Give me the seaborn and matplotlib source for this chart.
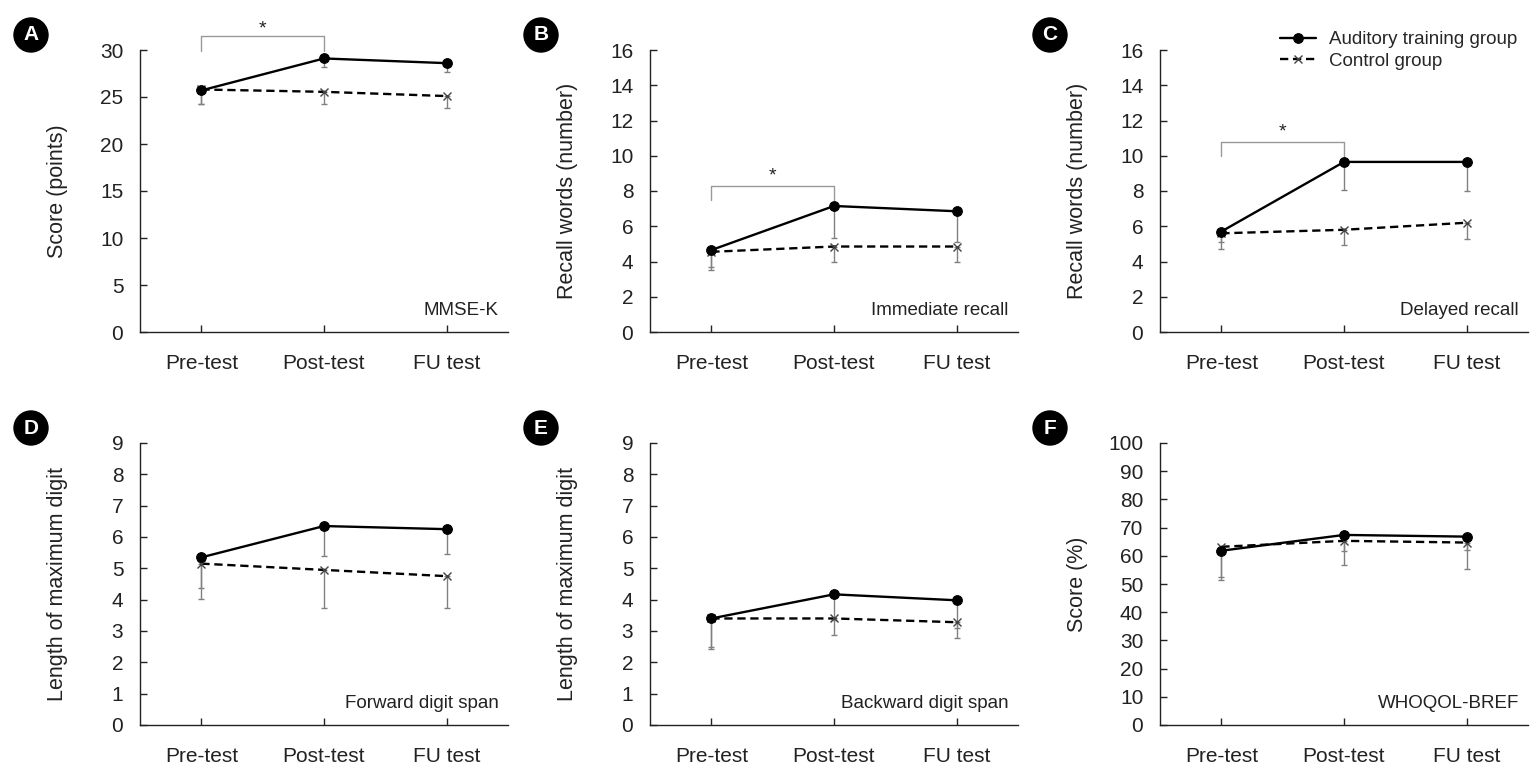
import matplotlib
matplotlib.use("Agg")
import matplotlib.pyplot as plt
import seaborn as sns

sns.set_theme(style="ticks")
plt.rcParams["font.family"] = ["Liberation Sans", "DejaVu Sans"]

tests = ["Pre-test", "Post-test", "FU test"]

# means
mmse_train = [25.7, 29.1, 28.6]
mmse_ctrl = [25.8, 25.55, 25.1]
imm_train = [4.65, 7.15, 6.85]
imm_ctrl = [4.55, 4.85, 4.85]
del_train = [5.7, 9.65, 9.65]
del_ctrl = [5.6, 5.8, 6.2]
fwd_train = [5.35, 6.35, 6.25]
fwd_ctrl = [5.15, 4.95, 4.75]
bwd_train = [3.4, 4.17, 3.98]
bwd_ctrl = [3.4, 3.4, 3.28]
qol_train = [61.8, 67.4, 66.8]
qol_ctrl = [63.2, 65.3, 64.7]

# lower end of each error bar
mmse_train_lo = [24.3, 28.2, 27.7]
mmse_ctrl_lo = [24.3, 24.3, 23.8]
imm_train_lo = [3.7, 5.35, 5.1]
imm_ctrl_lo = [3.5, 4.0, 4.0]
del_train_lo = [5.1, 8.05, 8.0]
del_ctrl_lo = [4.7, 4.95, 5.3]
fwd_train_lo = [4.36, 5.4, 5.45]
fwd_ctrl_lo = [4.02, 3.72, 3.72]
bwd_train_lo = [2.5, 3.35, 3.1]
bwd_ctrl_lo = [2.43, 2.87, 2.79]
qol_train_lo = [52.6, 61.8, 62.0]
qol_ctrl_lo = [51.4, 56.7, 55.3]

ylabels = ["Score (points)", "Recall words (number)", "Recall words (number)",
           "Length of maximum digit", "Length of maximum digit", "Score (%)"]
notes = ["MMSE-K", "Immediate recall", "Delayed recall",
         "Forward digit span", "Backward digit span", "WHOQOL-BREF"]
letters = ["A", "B", "C", "D", "E", "F"]
ymax = [30, 16, 16, 9, 9, 100]
ystep = [5, 2, 2, 1, 1, 10]

# significance brackets (panel index: leg bottom, bar height, star height)
brackets = {0: (29.9, 31.5, 32.2), 1: (7.5, 8.3, 8.85), 2: (10.0, 10.8, 11.35)}

train = [mmse_train, imm_train, del_train, fwd_train, bwd_train, qol_train]
ctrl = [mmse_ctrl, imm_ctrl, del_ctrl, fwd_ctrl, bwd_ctrl, qol_ctrl]
train_lo = [mmse_train_lo, imm_train_lo, del_train_lo, fwd_train_lo, bwd_train_lo, qol_train_lo]
ctrl_lo = [mmse_ctrl_lo, imm_ctrl_lo, del_ctrl_lo, fwd_ctrl_lo, bwd_ctrl_lo, qol_ctrl_lo]

W, H = 1538, 780
fig = plt.figure(figsize=(W / 100, H / 100), dpi=100)

lefts = [140, 650, 1160]
bottoms = [332, 725]
aw, ah = 368, 282

for i in range(6):
    r, c = divmod(i, 3)
    ax = fig.add_axes([lefts[c] / W, 1 - bottoms[r] / H, aw / W, ah / H])

    for m, lo in ((ctrl[i], ctrl_lo[i]), (train[i], train_lo[i])):
        err = [[a - b for a, b in zip(m, lo)], [0, 0, 0]]
        ax.errorbar(tests, m, yerr=err, fmt="none", ecolor="#808080",
                    elinewidth=1, capsize=2, capthick=1, zorder=2)

    sns.lineplot(x=tests, y=ctrl[i], ax=ax, color="black", linestyle=(0, (3.5, 2)),
                 linewidth=1.7, marker="x", markersize=5.5, markeredgewidth=1,
                 markeredgecolor="#444444", sort=False, label="Control group", zorder=3)
    sns.lineplot(x=tests, y=train[i], ax=ax, color="black", linestyle="-",
                 linewidth=1.7, marker="o", markersize=7, markeredgecolor="black",
                 sort=False, label="Auditory training group", zorder=4)

    ax.set_xlim(-0.5, 2.5)
    ax.set_ylim(0, ymax[i])
    ax.set_yticks(range(0, ymax[i] + 1, ystep[i]))
    ax.set_ylabel(ylabels[i], fontsize=15.5, color="#222222")
    ax.yaxis.set_label_coords(-0.196, 0.5)
    ax.set_xlabel("")
    ax.tick_params(axis="both", direction="in", length=5, width=1, labelsize=15,
                   colors="#222222")
    ax.tick_params(axis="y", pad=12)
    ax.tick_params(axis="x", pad=15.5)
    for s in ("top", "right"):
        ax.spines[s].set_visible(False)
    for s in ("left", "bottom"):
        ax.spines[s].set_linewidth(1)
        ax.spines[s].set_color("#222222")

    ax.text(0.975, 0.078, notes[i], transform=ax.transAxes, ha="right", va="center",
            fontsize=13.5, color="#222222")

    if i in brackets:
        lo, hi, star = brackets[i]
        ax.plot(["Pre-test", "Pre-test", "Post-test", "Post-test"], [lo, hi, hi, lo],
                color="#999999", linewidth=1, clip_on=False)
        ax.text(0.5, star, "*", ha="center", va="center", fontsize=14, color="#222222")

    if i == 2:
        h, l = ax.get_legend_handles_labels()
        ax.legend(h[::-1], l[::-1], loc="upper left", frameon=False,
                  bbox_to_anchor=(1280 / W, 1 - 31 / H), bbox_transform=fig.transFigure,
                  fontsize=13.5, handlelength=1.9, handletextpad=0.7,
                  labelspacing=0.25, borderpad=0, borderaxespad=0)
    else:
        ax.get_legend().remove()

    lx = [31, 541, 1050][c]
    ly = [35, 428][r]
    fig.text(lx / W, 1 - ly / H, letters[i], ha="center", va="center", fontsize=15,
             fontweight="bold", color="white",
             bbox=dict(boxstyle="circle,pad=0.36", fc="black", ec="black"))

fig.savefig("out.png", dpi=100)
